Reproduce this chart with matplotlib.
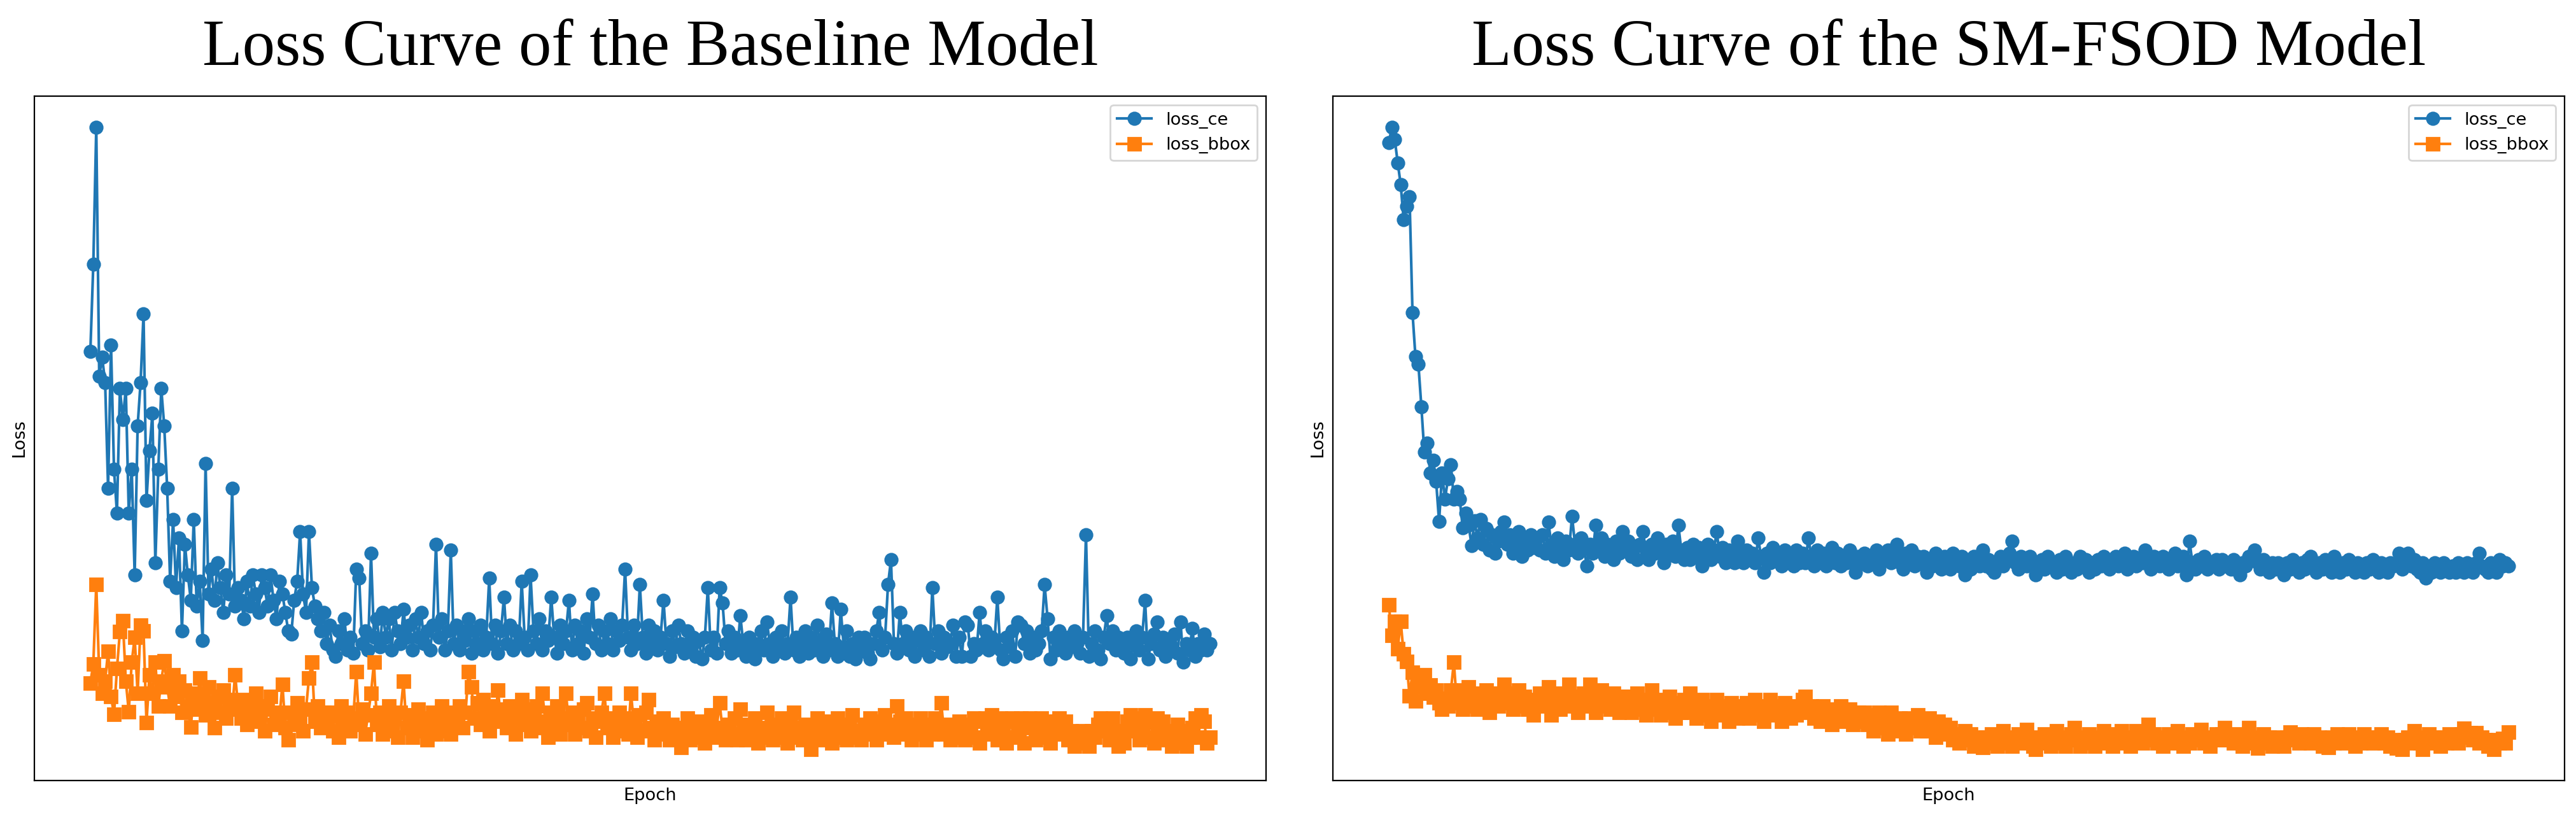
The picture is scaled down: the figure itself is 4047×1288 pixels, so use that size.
import numpy as np
import matplotlib
matplotlib.use("Agg")
import matplotlib.pyplot as plt

# ---------------- data (loss values, arbitrary units) ----------------
EPOCHS = 380

base_ce = [
    64, 78, 100, 60, 63, 59, 42, 65, 45, 38, 58, 53, 58, 38, 45, 28, 52, 59, 70, 40, 48, 54, 30, 45, 58, 52,
    42, 27, 37, 26, 34, 19, 33, 28, 24, 37, 23, 27, 17.5, 46, 25, 29, 24, 30, 26, 22, 28, 25, 42, 23, 26,
    24, 21, 27, 23, 28, 25, 22, 28, 26, 23, 28, 24, 21, 27, 25, 22, 19, 18.5, 24, 27, 35, 25, 22, 35, 26, 23, 21, 19, 22, 17,
    20, 16, 15, 19, 17, 21, 16, 18, 15.5, 29, 27.5, 17, 19, 16, 31.5, 18, 21, 16.5, 22, 18,
    21, 16, 22, 19, 17, 22.5, 18, 20, 16, 21, 18, 22, 17, 19, 16, 20, 33, 18, 21, 16,
    19, 32, 17, 20, 16, 19, 17.5, 21, 15.5, 19, 17, 20, 16, 18, 27.5, 17, 20, 15.5, 19, 24.5,
    17, 20, 16, 19, 17, 27, 18, 16, 28, 19, 17, 21, 16, 19, 17.5, 24.5, 18, 15.5, 20, 17,
    19, 24, 16, 20, 17, 19, 15.5, 21, 18, 25, 17, 20, 16, 19, 17, 21, 16, 19, 17.5, 20,
    29, 18, 16, 20, 17, 26.5, 18, 15.5, 20, 17, 19, 16, 18, 24, 17, 15, 19, 16.5, 20, 17,
    15.5, 19, 16, 18, 15, 17.5, 14.5, 18, 26, 16, 18, 15.5, 26, 23.5, 17, 19, 15.5, 18, 16, 21.5,
    17, 15, 18, 16, 14.5, 17, 19, 16, 20.5, 17, 15, 18, 16.5, 19, 15.5, 17, 24.5, 16, 18, 15,
    17, 19, 15.5, 18, 16, 20, 17, 15, 18.5, 16, 23.5, 17, 15, 22.5, 16.5, 19, 15, 17, 14.5, 18,
    16, 18, 15.5, 14.5, 17, 19, 22, 16, 18, 26.5, 30.5, 17, 15.5, 22, 17, 19, 16, 18, 15, 17.5,
    19, 16, 18, 15, 26, 17, 19, 15.5, 18, 16.5, 17, 20, 15, 18, 15, 20.5, 20, 15, 17, 16,
    22, 17, 19, 16, 18, 17, 24.5, 16, 14.5, 18, 16.5, 19, 15, 20.5, 20, 17, 19, 15.5, 18, 16,
    17, 19, 26.5, 21, 14.5, 18, 16, 19, 17, 15.5, 18, 16.5, 19, 17, 15.5, 18, 34.5, 15, 17, 19,
    16, 14.5, 18, 21.5, 17, 19, 16, 18, 17, 15.5, 18, 14.5, 17, 19, 16, 18, 24, 14.5, 17, 18.5,
    20.5, 16, 18, 15, 17.5, 16, 18.5, 15.5, 20.5, 14, 17, 16, 19.5, 15, 17, 16, 18.5, 16, 17,
]

base_bbox = [
    10.7, 13.7, 26.5, 12, 9, 11, 15.8, 8.5, 5.6, 13, 18.9, 20.7, 11, 6.1, 14, 18, 9, 20, 19, 4.3, 12, 9, 14, 7, 11, 14.2,
    10, 7, 12, 8.5, 11, 6, 9.5, 7, 3.6, 9, 6.5, 11.5, 8, 5.5, 10, 7, 3.5, 8.5, 6, 9.5, 5, 8, 6.5, 12, 7,
    5, 8, 4, 7.5, 5.5, 9, 4.5, 7, 3, 6.5, 8.5, 4, 6, 5, 10.5, 3.5, 1.5, 6, 4, 7.5, 5, 3, 6.5, 11.5, 14, 4.5, 7, 3.5, 6, 4.5,
    6, 3, 5.5, 2, 7, 4, 6, 3, 5, 12.5, 4, 6.5, 2.5, 5.5, 9, 14, 4, 6, 2.5, 5,
    7, 3, 5, 2, 6, 11, 3.5, 5.5, 2, 4.5, 6.5, 3, 5, 1.5, 4, 6, 2.5, 5, 7, 3,
    5, 2.5, 6, 4, 7, 3.5, 6, 12.5, 10, 5, 7.5, 4, 8, 5.5, 3, 7, 5, 9.5, 4.5, 6.5,
    3.5, 7, 5, 2.5, 6, 8, 4, 6.5, 3, 5.5, 7, 3.5, 9, 4.5, 2, 6, 4, 7, 2.5, 5,
    9, 4, 6, 2.5, 5, 3.5, 6.5, 7.5, 3, 5, 2, 4.5, 6, 9, 3.5, 5, 2, 4, 6, 3,
    5, 2.5, 9, 4, 2, 5.5, 3, 6, 8, 3.5, 1.5, 4.5, 2.5, 5, 3, 1.5, 4, 2, 3.5, 0.3,
    3, 5, 1.5, 3.5, 2, 4.5, 2.5, 1, 4, 5.5, 2, 3.5, 7.5, 3, 1.5, 4, 2.5, 5, 1.5, 6.5,
    3, 1.5, 4, 2.5, 5, 1, 3.5, 2, 6, 3, 1.5, 4, 2, 5, 2.5, 1, 4, 6, 2, 3.5,
    1.5, 4, 2, 0, 3, 5, 1.5, 3.5, 2, 4.5, 1, 3, 5, 2, 3.5, 1.5, 4, 5.5, 2, 3,
    1.5, 4, 2.5, 5, 3, 1.5, 4.5, 2.5, 5.5, 3, 4, 2, 7, 4.5, 2.5, 5, 3, 1.5, 4, 2.5,
    5, 3, 1.5, 4, 2.5, 5, 3, 7.5, 2.5, 4, 1.5, 3.5, 2, 4.5, 3, 1.5, 4, 2.5, 5, 2,
    1, 4.5, 5, 2.5, 5.5, 4, 1.5, 5, 3, 1, 4.5, 5, 2, 4, 5, 1, 3.5, 5, 4, 1.5,
    3.5, 5, 2, 4.5, 1, 3, 4.5, 5, 2.5, 4.5, 1.5, 3, 0.5, 2.5, 1, 3, 2, 0.5, 3, 2,
    4, 5, 3, 4.5, 1.5, 5, 3, 0.5, 2.5, 1, 4.5, 5.5, 3, 5, 1.5, 4, 5.5, 2, 4.5, 1,
    5, 3, 4.5, 1.5, 3, 0.5, 2.5, 4, 1, 3, 0.5, 2, 3.5, 5, 2, 5.5, 4.5, 1, 2,
]

sm_ce = [
    97.5, 100, 98, 94.3, 90.8, 85.2, 87.3, 88.8, 70.2, 63.1, 61.9, 55.1, 47.8, 49.2, 44.4, 46.5, 43.1, 36.6, 44.4, 40.2, 43.5, 45.8, 40.2, 41.5, 40.2,
    35.6, 38, 36, 32.8, 36.7, 34, 37, 33, 35.5, 32, 34.5, 31.5, 33.5, 35, 36.5, 33, 34.5, 31.5, 33, 35, 31, 33.5, 32, 34.5, 32.5, 34,
    32, 34.5, 31.5, 36.5, 33, 31, 34, 32.5, 30.5, 33.5, 32, 37.5, 33, 31.5, 34, 32.5, 29.5, 33, 31.5, 36, 32.5, 34, 31, 33, 32, 30.5, 33.5, 31.5, 35, 32,
    33.5, 31, 32.5, 30.5, 33, 35, 32, 30.5, 33, 31.5, 34, 32, 30, 33, 31.5, 33.5, 31, 36, 32, 30.5,
    32.5, 30.5, 33, 31, 32.5, 29.5, 31.5, 33, 30.5, 32, 35, 31, 32.5, 30, 32, 31, 30, 33.5, 31.5, 30,
    32, 30.5, 31.5, 30, 34, 31, 28.5, 31.5, 30, 32.5, 30.5, 31.5, 29.5, 32, 30.5, 31, 29.5, 32, 30, 31.5,
    30, 34, 31, 29.5, 32, 30.5, 31.5, 29.5, 31, 32.5, 30, 31.5, 29.5, 31, 30, 32, 30.5, 28.5, 31, 30,
    31.5, 29.5, 31, 30, 32, 29, 31, 30.5, 32, 30, 31.5, 33, 30, 29, 31.5, 30, 32, 29.5, 31, 30,
    31, 28.5, 30.5, 29.5, 31.5, 30, 29, 31, 30, 29, 31.5, 30, 29.5, 31, 28, 30, 29, 31, 30.5, 29.5,
    32, 29.5, 30.5, 29, 28.5, 30, 31, 29.5, 30.5, 31.5, 33.5, 30, 29, 31, 30, 29.5, 31, 30, 28, 29.5,
    30.5, 29, 31, 29.5, 30, 28.5, 30.5, 29, 31, 30, 28.5, 30, 29, 31, 29.5, 30.5, 28.5, 30, 29, 30.5,
    29.5, 31, 30, 29, 30.5, 31, 29.5, 30, 31.5, 29, 30.5, 31, 29.5, 30.5, 30, 32, 30, 29, 31, 30,
    29.5, 31, 30, 29, 30.5, 31.5, 29.5, 30, 31, 28, 33.5, 30, 29, 30.5, 29.5, 31, 29, 30, 29.5, 30.5,
    29, 30.5, 29.5, 30, 29, 30.5, 29.5, 28, 30, 29.5, 31, 30.5, 32, 30, 29, 30.5, 29.5, 28.5, 30, 29,
    30, 29.5, 28, 30, 29, 30.5, 29.5, 28.5, 30, 29, 30.5, 31, 29.5, 28.5, 30, 29, 30.5, 29.5, 28.5, 31,
    29.5, 28.5, 30, 29, 30.5, 29, 28.5, 30, 29.5, 28.5, 30, 29, 30.5, 29.5, 28.5, 30, 29, 28.5, 30, 29.5,
    30, 31.5, 29, 30, 31.5, 29.5, 30.5, 29, 28.5, 30, 27.5, 29, 28.5, 30, 29, 28.5, 30, 29, 28.5, 29.5,
    28.5, 30, 29, 28.5, 30, 29, 28.5, 30, 31.5, 29.5, 29, 28.5, 30, 29, 28.5, 30.5, 29.5, 30, 29.5,
]

sm_bbox = [
    23.2, 18.3, 20.6, 16.2, 20.6, 15.4, 14.1, 8.6, 12.4, 7.8, 10, 11.2, 12, 9, 10.3, 8.4, 9.5, 7.5, 6.5, 8.2, 7, 9.5,
    14, 7.5, 9.5, 6.5, 8.5, 10, 7, 9, 6.5, 8.5, 7.5, 9.5, 6, 8, 9, 7, 8.5, 10.5, 7.5, 9, 6.5, 8, 9.5, 7, 8.5, 6.5, 8, 5.5, 7.5,
    9, 7, 8.5, 10, 5.5, 8, 9, 6.5, 8.5, 7.5, 10.5, 7, 8.5, 6, 8, 9, 7, 10.5, 7.5, 6, 8.5, 9.5, 7, 8, 6.5, 9, 7.5, 6, 8.5, 7,
    8.5, 6, 7.5, 9, 6.5, 8, 5.5, 7, 9.5, 6.5, 8, 5.5, 7.5, 6, 8.5, 7, 5, 7.5, 6, 8,
    6, 9, 7, 5, 6.5, 8, 5.5, 7, 4.5, 6.5, 8, 5.5, 7, 6, 4.5, 7.5, 6, 5, 7, 5.5,
    7.5, 5, 6.5, 8, 5.5, 7, 4.5, 6.5, 8, 5.5, 7, 6, 4.5, 7.5, 6, 5, 7, 5.5, 6.5, 8,
    8.5, 6, 7, 5, 6.5, 4.5, 7, 5.5, 6, 4, 6.5, 5, 7, 4.5, 5.5, 6.5, 4, 5.5, 6, 4.5,
    6, 4, 5.5, 3, 5, 6, 3.5, 5, 2.5, 6, 4.5, 3, 5, 4, 2.5, 5, 3.5, 4.5, 5.5, 3,
    4.5, 3, 5, 3.5, 2, 4.5, 3, 4, 2.5, 3.5, 1.5, 2.5, 1, 2, 3, 1.5, 2.5, 0.5, 2, 1.5,
    0.3, 2, 1, 2.5, 1.5, 0.5, 2, 3, 1, 2, 0.5, 1.5, 2.5, 1, 2, 3.2, 1.5, 0.5, 0, 2,
    1, 2.5, 1.5, 0.5, 2, 3, 1, 2, 0.5, 1.5, 2.5, 3.5, 1.5, 0.5, 2, 1, 2.5, 1.5, 0.5, 2,
    1.5, 3, 1, 2, 0.5, 2.5, 1.5, 3, 1, 2, 0.5, 1.5, 3, 2, 1, 2.5, 4, 1.5, 2.5, 1,
    2, 0.5, 1.5, 2.5, 1, 2, 3, 1.5, 0.5, 2, 1, 2.5, 1.5, 2, 3.2, 1, 2, 0.5, 1.5, 2.5,
    1.5, 2.5, 3.5, 1.5, 2, 1, 2.5, 1.5, 0.5, 2, 3.5, 2, 1, 0.2, 1.5, 2.5, 1, 2, 0.5, 1.5,
    2, 1, 0.5, 2, 2.8, 1.5, 2, 1, 2.5, 1.5, 2, 1, 2.5, 1.5, 2, 0.5, 1.5, 0.3, 2, 1,
    2.5, 1.5, 2, 1, 2.5, 1.5, 0.5, 2, 1, 2.5, 1.5, 2, 1, 2, 1.5, 2.5, 1, 2, 0.5, 1.5,
    0.2, 1, 0, 1.5, 2, 1, 3, 2, 1, 0, 1.5, 2.5, 1, 2, 1.5, 0.5, 2, 1, 2.5, 1.5,
    2, 1, 2.5, 3.4, 2, 2.7, 1.5, 2.7, 1, 2, 1.5, 0.5, 1, 0, 1.5, 1, 1.8, 1, 2.8,
]

titles = ["Loss Curve of the Baseline Model", "Loss Curve of the SM-FSOD Model"]
series_labels = ["loss_ce", "loss_bbox"]
x_label = "Epoch"
y_label = "Loss"

# ---------------- figure ----------------
W, H, DPI = 4047, 1288, 200
plt.rcParams["font.size"] = 9.8
fig = plt.figure(figsize=(W / DPI, H / DPI), dpi=DPI)

ax_top, ax_bottom = 151, 1226
boxes = [(54, 1989), (2094, 4029)]
axes = []
for (x0, x1) in boxes:
    axes.append(fig.add_axes([x0 / W, 1 - ax_bottom / H, (x1 - x0) / W, (ax_bottom - ax_top) / H]))

data = [(base_ce, base_bbox), (sm_ce, sm_bbox)]
for ax, (ce, bb), title in zip(axes, data, titles):
    x_ce = np.linspace(1, EPOCHS, len(ce))
    x_bb = np.linspace(1, EPOCHS, len(bb))
    ax.plot(x_ce, ce, marker="o", markersize=7, linewidth=1.5, color="#1f77b4", label=series_labels[0])
    ax.plot(x_bb, bb, marker="s", markersize=7, linewidth=1.5, color="#ff7f0e", label=series_labels[1])
    ax.set_xticks([])
    ax.set_yticks([])
    ax.set_xlabel(x_label)
    ax.set_ylabel(y_label)
    ax.set_title(title, fontsize=37, family=["Liberation Serif", "DejaVu Serif"], pad=17.6)
    ax.legend(loc="upper right")

fig.savefig("out.png", dpi=DPI)
